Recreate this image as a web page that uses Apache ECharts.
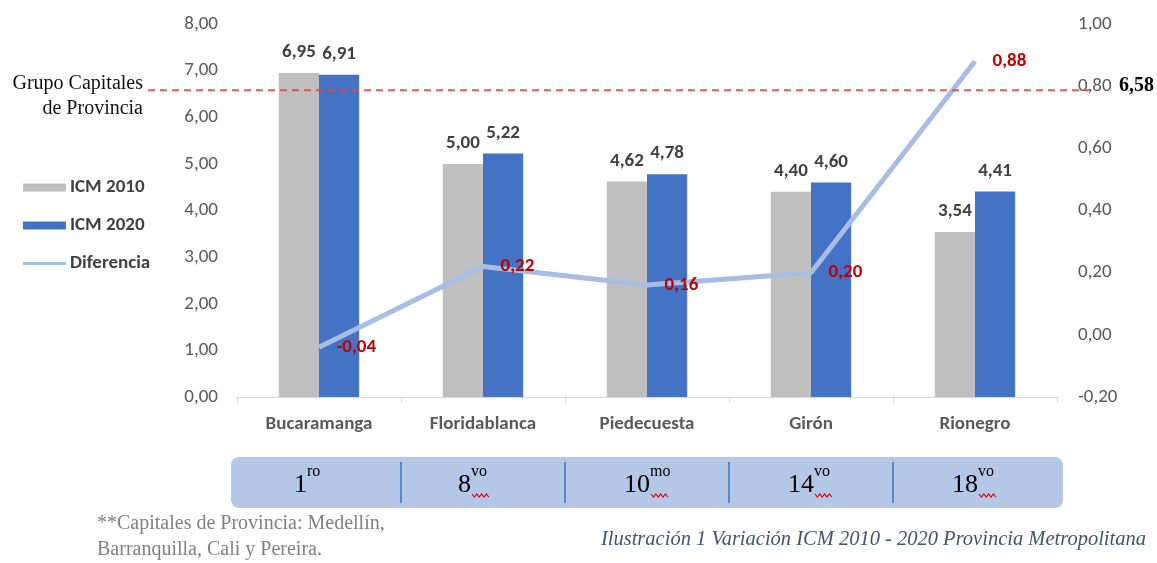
<!DOCTYPE html>
<html>
<head>
<meta charset="utf-8">
<script src="https://cdn.jsdelivr.net/npm/echarts@6/dist/echarts.min.js"></script>
<style>
html,body{margin:0;padding:0;background:#fff;}
#main{width:1157px;height:563px;}
</style>
</head>
<body>
<div id="main"></div>
<script>
const categories = ['Bucaramanga', 'Floridablanca', 'Piedecuesta', 'Girón', 'Rionegro'];
const icm2010 = [6.95, 5.00, 4.62, 4.40, 3.54];
const icm2020 = [6.91, 5.22, 4.78, 4.60, 4.41];
const diferencia = [-0.04, 0.22, 0.16, 0.20, 0.88];
const grupoCapitales = 6.58;
const rankBase = ['1', '8', '10', '14', '18'];
const rankSup = ['ro', 'vo', 'mo', 'vo', 'vo'];
const seriesNames = ['ICM 2010', 'ICM 2020', 'Diferencia'];

const fmt = v => v.toFixed(2).replace('.', ',');
const SANS = 'Carlito, Lato, "Liberation Sans", sans-serif';
const SERIF = '"Liberation Serif", "DejaVu Serif", serif';
const LINE_COLOR = '#a9bce3';

const chart = echarts.init(document.getElementById('main'));
chart.setOption({
  animation: false,
  backgroundColor: '#ffffff',
  grid: { left: 237, right: 100, top: 24, bottom: 166, containLabel: false },
  legend: {
    orient: 'vertical', left: 23, top: 178, padding: 0,
    itemWidth: 43, itemHeight: 8, itemGap: 19,
    textStyle: { fontFamily: SANS, fontSize: 19, fontWeight: 'bold', color: '#404040', padding: [0, 0, 0, -1] },
    data: [
      { name: seriesNames[0], icon: 'rect' },
      { name: seriesNames[1], icon: 'rect' },
      { name: seriesNames[2], icon: 'path://M0,0 L43,0 L43,3 L0,3 Z', itemStyle: { color: LINE_COLOR, opacity: 1 } }
    ]
  },
  xAxis: {
    type: 'category', data: categories,
    axisLine: { lineStyle: { color: '#d9d9d9', width: 1 } },
    axisTick: { show: true, length: 6, lineStyle: { color: '#d9d9d9' } },
    axisLabel: { fontFamily: SANS, fontSize: 19, fontWeight: 'bold', color: '#595959', margin: 18 }
  },
  yAxis: [
    {
      type: 'value', min: 0, max: 8, interval: 1,
      splitLine: { show: false }, axisLine: { show: false }, axisTick: { show: false },
      axisLabel: { fontFamily: SANS, fontSize: 19, color: '#595959', margin: 19, formatter: v => fmt(v) }
    },
    {
      type: 'value', min: -0.2, max: 1, interval: 0.2,
      splitLine: { show: false }, axisLine: { show: false }, axisTick: { show: false },
      axisLabel: { fontFamily: SANS, fontSize: 19, color: '#595959', margin: 21, formatter: v => fmt(v) }
    }
  ],
  series: [
    {
      name: seriesNames[0], type: 'bar', data: icm2010, barGap: '0%', barCategoryGap: '51%',
      itemStyle: { color: '#bfbfbf' },
      label: { show: true, position: 'top', distance: 11, fontFamily: SANS, fontSize: 19, fontWeight: 'bold', color: '#404040', formatter: p => fmt(p.value) }
    },
    {
      name: seriesNames[1], type: 'bar', data: icm2020,
      itemStyle: { color: '#4472c4' },
      label: { show: true, position: 'top', distance: 11, fontFamily: SANS, fontSize: 19, fontWeight: 'bold', color: '#404040', formatter: p => fmt(p.value) }
    },
    {
      name: seriesNames[2], type: 'line', yAxisIndex: 1, data: diferencia,
      symbol: 'circle', symbolSize: 1, showSymbol: true,
      lineStyle: { color: LINE_COLOR, width: 5 },
      itemStyle: { color: LINE_COLOR, opacity: 0 },
      label: { show: true, position: 'right', distance: 17, fontFamily: SANS, fontSize: 19, fontWeight: 'bold', color: '#c00000', opacity: 1, formatter: p => fmt(p.value) },
      z: 5
    }
  ]
});

const yRef = chart.convertToPixel({ yAxisIndex: 0 }, grupoCapitales);
const centers = categories.map((c, i) => chart.convertToPixel({ xAxisIndex: 0 }, i));
const graphics = [];

graphics.push({
  type: 'line', z: 10,
  shape: { x1: 148, y1: yRef, x2: 1090, y2: yRef },
  style: { stroke: '#e04a4a', lineWidth: 2, lineDash: [7, 5], opacity: 0.9 }
});
graphics.push({
  type: 'text', z: 10, x: 1119, y: yRef - 4,
  style: { text: fmt(grupoCapitales), font: 'bold 20px ' + SERIF, fill: '#000', verticalAlign: 'middle', align: 'left' }
});
graphics.push({
  type: 'text', z: 10, x: 143, y: yRef - 6,
  style: { text: 'Grupo Capitales', font: '20px ' + SERIF, fill: '#111', verticalAlign: 'middle', align: 'right' }
});
graphics.push({
  type: 'text', z: 10, x: 143, y: yRef + 19,
  style: { text: 'de Provincia', font: '20px ' + SERIF, fill: '#111', verticalAlign: 'middle', align: 'right' }
});

graphics.push({
  type: 'rect', z: 1,
  shape: { x: 231, y: 457, width: 832, height: 51, r: 8 },
  style: { fill: '#b4c7e7' }
});
for (let i = 0; i < centers.length - 1; i++) {
  const xb = (centers[i] + centers[i + 1]) / 2;
  graphics.push({
    type: 'line', z: 2,
    shape: { x1: xb, y1: 462, x2: xb, y2: 503 },
    style: { stroke: '#4472c4', lineWidth: 1.5 }
  });
}
centers.forEach((cx, i) => {
  const j = cx + (rankBase[i].length === 1 ? -12 : 3);
  graphics.push({
    type: 'text', z: 3, x: j, y: 498,
    style: { text: rankBase[i], font: '26px ' + SERIF, fill: '#000', align: 'right', verticalAlign: 'bottom' }
  });
  graphics.push({
    type: 'text', z: 3, x: j, y: 472,
    style: { text: rankSup[i], font: '16px ' + SERIF, fill: '#000', align: 'left', verticalAlign: 'middle' }
  });
  if (i > 0) {
    const pts = [];
    for (let k = 0; k <= 7; k++) pts.push([j + 1 + k * 2.4, 494 + (k % 2 ? 3 : 0)]);
    graphics.push({
      type: 'polyline', z: 3,
      shape: { points: pts },
      style: { stroke: '#e00000', lineWidth: 1.2, fill: null }
    });
  }
});

graphics.push({
  type: 'text', x: 97, y: 524,
  style: { text: '**Capitales de Provincia: Medellín,', font: '20px ' + SERIF, fill: '#808080', verticalAlign: 'middle' }
});
graphics.push({
  type: 'text', x: 97, y: 550,
  style: { text: 'Barranquilla, Cali y Pereira.', font: '20px ' + SERIF, fill: '#808080', verticalAlign: 'middle' }
});
graphics.push({
  type: 'text', x: 1146, y: 540,
  style: { text: 'Ilustración 1 Variación ICM 2010 - 2020 Provincia Metropolitana', font: 'italic 20.5px ' + SERIF, fill: '#44546a', align: 'right', verticalAlign: 'middle' }
});

chart.setOption({ graphic: graphics });
</script>
</body>
</html>
